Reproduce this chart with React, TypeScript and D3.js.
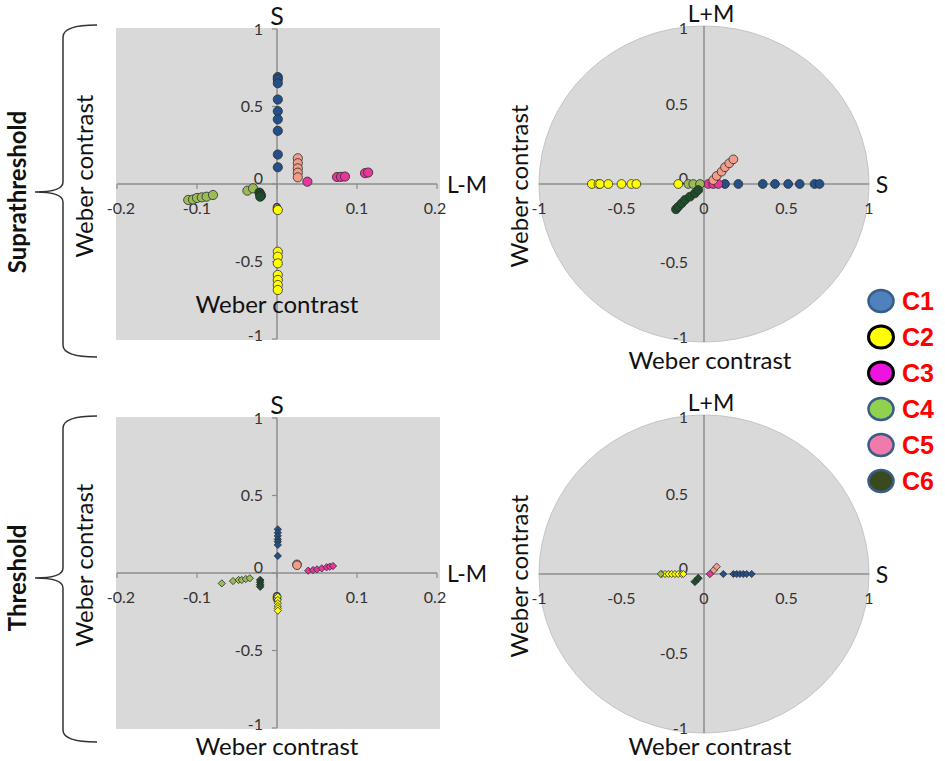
import React from "react";
import * as d3 from "d3";

// ---------- DATA ----------
type Pt = [number, number];
const seriesNames = ["C1", "C2", "C3", "C4", "C5", "C6"];

// Suprathreshold, L-M (x) vs S (y)
const supraLM_C1: Pt[] = [[0.001,0.69],[0.001,0.676],[0.001,0.65],[0.001,0.545],[0.001,0.47],[0.001,0.417],[0.001,0.343],[0.001,0.19],[0.001,0.108]];
const supraLM_C2: Pt[] = [[0.001,-0.168],[0.001,-0.437],[0.001,-0.469],[0.001,-0.512],[0.001,-0.587],[0.001,-0.619],[0.001,-0.652],[0.001,-0.684]];
const supraLM_C3: Pt[] = [[0.038,0.015],[0.075,0.045],[0.08,0.046],[0.085,0.048],[0.11,0.07],[0.114,0.074]];
const supraLM_C4: Pt[] = [[-0.111,-0.103],[-0.105,-0.1],[-0.1,-0.09],[-0.094,-0.086],[-0.088,-0.082],[-0.08,-0.071],[-0.037,-0.043],[-0.03,-0.028]];
const supraLM_C5: Pt[] = [[0.026,0.166],[0.026,0.134],[0.026,0.101],[0.026,0.073],[0.026,0.043]];
const supraLM_C6: Pt[] = [[-0.022,-0.055],[-0.021,-0.065],[-0.02,-0.075],[-0.021,-0.082]];

// Suprathreshold, S (x) vs L+M (y)
const supraS_C1: Pt[] = [[0.127,0],[0.208,0],[0.356,0],[0.43,0],[0.51,0],[0.58,0],[0.67,0],[0.7,0]];
const supraS_C2: Pt[] = [[-0.68,0],[-0.64,0],[-0.63,0],[-0.58,0],[-0.5,0],[-0.44,0],[-0.41,0],[-0.156,0]];
const supraS_C3: Pt[] = [[0.026,0],[0.056,0],[0.087,0]];
const supraS_C4: Pt[] = [[-0.095,0],[-0.065,0],[-0.024,0]];
const supraS_C5: Pt[] = [[0.056,0.025],[0.077,0.051],[0.107,0.078],[0.127,0.106],[0.153,0.131],[0.178,0.156]];
const supraS_C6: Pt[] = [[-0.17,-0.16],[-0.156,-0.144],[-0.135,-0.122],[-0.115,-0.1],[-0.085,-0.08],[-0.055,-0.059],[-0.035,-0.038]];

// Threshold, L-M (x) vs S (y)
const threshLM_C1: Pt[] = [[0.001,0.282],[0.001,0.26],[0.001,0.239],[0.001,0.217],[0.001,0.202],[0.001,0.181],[0.001,0.11]];
const threshLM_C2: Pt[] = [[0.001,-0.153],[0.001,-0.174],[0.001,-0.195],[0.001,-0.213],[0.001,-0.228],[0.001,-0.243]];
const threshLM_C3: Pt[] = [[0.039,0.015],[0.045,0.019],[0.05,0.024],[0.056,0.03],[0.062,0.037],[0.066,0.041],[0.07,0.045]];
const threshLM_C4: Pt[] = [[-0.069,-0.067],[-0.055,-0.052],[-0.048,-0.045],[-0.044,-0.045],[-0.039,-0.039],[-0.034,-0.034]];
const threshLM_C5: Pt[] = [[0.025,0.056],[0.025,0.05]];
const threshLM_C6: Pt[] = [[-0.021,-0.045],[-0.021,-0.06],[-0.021,-0.075],[-0.021,-0.088]];

// Threshold, S (x) vs L+M (y)
const threshS_C1: Pt[] = [[0.117,0],[0.178,0],[0.198,0],[0.218,0],[0.238,0],[0.259,0],[0.289,0]];
const threshS_C2: Pt[] = [[-0.256,0],[-0.236,0],[-0.216,0],[-0.196,0],[-0.176,0],[-0.156,0],[-0.135,0],[-0.125,0]];
const threshS_C3: Pt[] = [[0.036,0]];
const threshS_C4: Pt[] = [[-0.262,0]];
const threshS_C5: Pt[] = [[0.06,0.025],[0.077,0.046]];
const threshS_C6: Pt[] = [[-0.055,-0.048],[-0.035,-0.027]];

const lmTicks = [-0.2, -0.1, 0, 0.1, 0.2];
const unitTicks = [-1, -0.5, 0, 0.5, 1];

// ---------- STYLE ----------
const FONT = "Lato, 'Open Sans', sans-serif";
const markFill: Record<string, string> = {
  C1: "#22508b", C2: "#ffff00", C3: "#e8379a", C4: "#9bbb59", C5: "#f29c8a", C6: "#1e4d2b",
};
const legendFill: Record<string, string> = {
  C1: "#4f81bd", C2: "#ffff00", C3: "#ee14e0", C4: "#92d050", C5: "#f07aaa", C6: "#3b4a1e",
};
const legendStroke: Record<string, string> = {
  C1: "#385d8a", C2: "#000000", C3: "#000000", C4: "#385d8a", C5: "#385d8a", C6: "#385d8a",
};
const BG = "#d9d9d9";
const AXIS = "#8c8c8c";
const TICK_TXT = "#333333";
const TITLE = 24;
const TICK = 16;

type Shape = "circle" | "diamond";
type PanelSeries = { name: string; pts: Pt[]; shape: Shape; r: number };

function Marker({ x, y, shape, r, fill }: { x: number; y: number; shape: Shape; r: number; fill: string }) {
  if (shape === "circle") {
    return <circle cx={x} cy={y} r={r} fill={fill} stroke="#2b2b2b" strokeWidth={0.8} />;
  }
  const sym = d3.symbol().type(d3.symbolDiamond2).size(r * r * 2.2)();
  return <path d={sym || ""} transform={`translate(${x},${y})`} fill={fill} stroke="#2b2b2b" strokeWidth={0.8} />;
}

function RectPanel({ top, bottom, series, xLabel, yTop }: { top: number; bottom: number; series: PanelSeries[]; xLabel: number; yTop: number }) {
  const x = d3.scaleLinear().domain([-0.2, 0.2]).range([117, 437]);
  const y = d3.scaleLinear().domain([-1, 1]).range([bottom, top]);
  const ox = x(0), oy = y(0);
  return (
    <g>
      <rect x={116} y={top - 1} width={324} height={bottom - top + 2} fill={BG} />
      <line x1={x(-0.2)} x2={x(0.2)} y1={oy} y2={oy} stroke={AXIS} strokeWidth={1.5} />
      <line x1={ox} x2={ox} y1={y(1)} y2={y(-1)} stroke={AXIS} strokeWidth={1.5} />
      {lmTicks.map((t) => (
        <g key={"xt" + t}>
          <line x1={x(t)} x2={x(t)} y1={oy} y2={oy + 5} stroke={AXIS} strokeWidth={1.2} />
          <text x={x(t) + (t === -0.2 ? 4 : t === 0.2 ? -2 : 0)} y={oy + 30} textAnchor="middle" fontSize={TICK} fill={TICK_TXT} fontFamily={FONT}>{String(t)}</text>
        </g>
      ))}
      {unitTicks.map((t) => (
        <g key={"yt" + t}>
          <line x1={ox - 5} x2={ox} y1={y(t)} y2={y(t)} stroke={AXIS} strokeWidth={1.2} />
          <text x={ox - 14} y={y(t) + (t === 0 ? 0 : t === 1 ? 6 : t === -1 ? 2 : 5)} textAnchor="end" fontSize={TICK} fill={TICK_TXT} fontFamily={FONT}>{String(t)}</text>
        </g>
      ))}
      {series.map((s) => s.pts.map((p, i) => (
        <Marker key={s.name + i} x={x(p[0])} y={y(p[1])} shape={s.shape} r={s.r} fill={markFill[s.name]} />
      )))}
      <text x={ox} y={yTop} textAnchor="middle" fontSize={25} fill="#111" fontFamily={FONT}>S</text>
      <text x={467} y={oy + 9} textAnchor="middle" fontSize={23} fill="#111" fontFamily={FONT}>L-M</text>
      <text x={ox} y={xLabel} textAnchor="middle" fontSize={TITLE} fill="#111" fontFamily={FONT}>Weber contrast</text>
      <text transform={`translate(93,${oy - 8}) rotate(-90)`} textAnchor="middle" fontSize={TITLE} fill="#111" fontFamily={FONT}>Weber contrast</text>
    </g>
  );
}

function CirclePanel({ top, bottom, series, xLabel, yTop }: { top: number; bottom: number; series: PanelSeries[]; xLabel: number; yTop: number }) {
  const x = d3.scaleLinear().domain([-1, 1]).range([539, 869]);
  const y = d3.scaleLinear().domain([-1, 1]).range([bottom, top]);
  const ox = x(0), oy = y(0);
  return (
    <g>
      <ellipse cx={ox} cy={oy} rx={(x(1) - x(-1)) / 2} ry={(y(-1) - y(1)) / 2} fill={BG} stroke="#c4c4c4" strokeWidth={1} />
      <line x1={x(-1)} x2={x(1)} y1={oy} y2={oy} stroke={AXIS} strokeWidth={1.5} />
      <line x1={ox} x2={ox} y1={y(1)} y2={y(-1)} stroke={AXIS} strokeWidth={1.5} />
      {unitTicks.map((t) => (
        <text key={"xt" + t} x={x(t)} y={oy + 30} textAnchor="middle" fontSize={TICK} fill={TICK_TXT} fontFamily={FONT}>{String(t)}</text>
      ))}
      {unitTicks.map((t) => (
        <text key={"yt" + t} x={ox - 16} y={y(t) + (t === 0 ? 0 : t === 1 ? 8 : t === -1 ? 1 : 5)} textAnchor="end" fontSize={TICK} fill={TICK_TXT} fontFamily={FONT}>{String(t)}</text>
      ))}
      {series.map((s) => s.pts.map((p, i) => (
        <Marker key={s.name + i} x={x(p[0])} y={y(p[1])} shape={s.shape} r={s.r} fill={markFill[s.name]} />
      )))}
      <text x={ox + 7} y={yTop} textAnchor="middle" fontSize={23} fill="#111" fontFamily={FONT}>L+M</text>
      <text x={882} y={oy + 9} textAnchor="middle" fontSize={23} fill="#111" fontFamily={FONT}>S</text>
      <text x={ox + 6} y={xLabel} textAnchor="middle" fontSize={TITLE} fill="#111" fontFamily={FONT}>Weber contrast</text>
      <text transform={`translate(528,${oy + 2}) rotate(-90)`} textAnchor="middle" fontSize={TITLE} fill="#111" fontFamily={FONT}>Weber contrast</text>
    </g>
  );
}

function Brace({ top, bottom, tipY }: { top: number; bottom: number; tipY: number }) {
  const vx = 63, hx = 97, tx = 35;
  const p = d3.path();
  p.moveTo(hx, top);
  p.quadraticCurveTo(vx, top, vx, top + 12);
  p.lineTo(vx, tipY - 10);
  p.quadraticCurveTo(vx, tipY, tx, tipY);
  p.quadraticCurveTo(vx, tipY, vx, tipY + 10);
  p.lineTo(vx, bottom - 12);
  p.quadraticCurveTo(vx, bottom, hx, bottom);
  return <path d={p.toString()} fill="none" stroke="#333" strokeWidth={1.5} />;
}

export default function App() {
  const mk = (arrs: Pt[][], shapes: Shape[], r: number[]): PanelSeries[] =>
    seriesNames.map((n, i) => ({ name: n, pts: arrs[i], shape: shapes[i], r: r[i] }));
  const allC: Shape[] = ["circle", "circle", "circle", "circle", "circle", "circle"];
  const tlSeries = mk([supraLM_C1, supraLM_C2, supraLM_C3, supraLM_C4, supraLM_C5, supraLM_C6], allC, [4.6, 4.6, 4.6, 4.6, 4.6, 4.6]);
  const trSeries = mk([supraS_C1, supraS_C2, supraS_C3, supraS_C4, supraS_C5, supraS_C6], allC, [4.4, 4.4, 4.4, 4.4, 4.4, 4.4]);
  const blSeries = mk([threshLM_C1, threshLM_C2, threshLM_C3, threshLM_C4, threshLM_C5, threshLM_C6],
    ["diamond", "diamond", "diamond", "diamond", "circle", "diamond"], [3.9, 3.9, 3.9, 3.9, 4.3, 4.1]);
  const brSeries = mk([threshS_C1, threshS_C2, threshS_C3, threshS_C4, threshS_C5, threshS_C6],
    ["diamond", "diamond", "diamond", "diamond", "diamond", "diamond"], [3.8, 3.8, 4.0, 3.8, 4.0, 4.3]);

  return (
    <svg width={945} height={761} style={{ display: "block", position: "absolute", left: 0, top: 0, background: "#fff" }}>
      <RectPanel top={29} bottom={339} series={tlSeries} xLabel={313} yTop={25} />
      <RectPanel top={418} bottom={728} series={blSeries} xLabel={755} yTop={414} />
      <CirclePanel top={26} bottom={342} series={trSeries} xLabel={369} yTop={22} />
      <CirclePanel top={415} bottom={733} series={brSeries} xLabel={755} yTop={411} />

      <Brace top={25} bottom={357} tipY={192} />
      <Brace top={416} bottom={742} tipY={578} />
      <text transform="translate(26,192) rotate(-90)" textAnchor="middle" fontSize={24} fontWeight="bold" fill="#111" fontFamily={FONT}>Suprathreshold</text>
      <text transform="translate(26,578) rotate(-90)" textAnchor="middle" fontSize={24} fontWeight="bold" fill="#111" fontFamily={FONT}>Threshold</text>

      {seriesNames.map((n, i) => (
        <g key={n}>
          <ellipse cx={881} cy={301 + i * 36} rx={12.5} ry={11} fill={legendFill[n]} stroke={legendStroke[n]} strokeWidth={n === "C2" || n === "C3" ? 3 : 2.5} />
          <text x={902} y={301 + i * 36 + 9} fontSize={25} fontWeight="bold" fill="#ff0000" fontFamily="'Liberation Sans', Arial, sans-serif">{n}</text>
        </g>
      ))}
    </svg>
  );
}
